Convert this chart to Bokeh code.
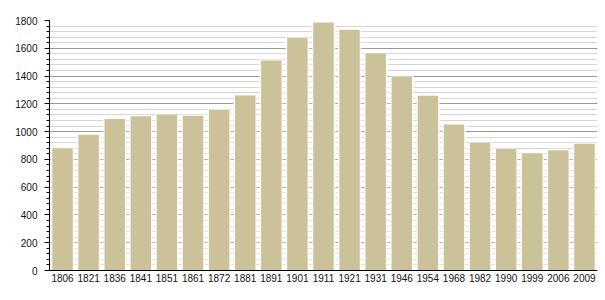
from bokeh.plotting import figure
from bokeh.models import SingleIntervalTicker, Range1d
from bokeh.embed import file_html
from bokeh.resources import INLINE

years = ["1806", "1821", "1836", "1841", "1851", "1861", "1872", "1881", "1891", "1901",
         "1911", "1921", "1931", "1946", "1954", "1968", "1982", "1990", "1999", "2006", "2009"]
population = [880, 978, 1090, 1111, 1123, 1114, 1157, 1260, 1512, 1675,
              1786, 1733, 1565, 1397, 1258, 1051, 922, 876, 845, 866, 912]

p = figure(x_range=years, y_range=Range1d(0, 1800), width=605, height=300,
           output_backend="svg", toolbar_location=None,
           min_border_left=49, min_border_right=8, min_border_top=20, min_border_bottom=30)
p.outline_line_color = None
p.background_fill_color = "white"

# white glow behind bars
p.vbar(x=years, top=population, width=0.84, bottom=0, fill_color="white", fill_alpha=0.85,
       line_color="white", line_width=3, line_alpha=0.5)
p.vbar(x=years, top=population, width=0.785, bottom=0, fill_color="#CCC29A",
       line_color=None)

ticker = SingleIntervalTicker(interval=200, num_minor_ticks=5)
p.yaxis.ticker = ticker
p.ygrid.ticker = ticker
p.ygrid.grid_line_color = "#999999"
p.ygrid.grid_line_width = 1
p.ygrid.minor_grid_line_color = "#d6d6d6"
p.ygrid.minor_grid_line_width = 1
p.ygrid.level = "underlay"
p.xgrid.grid_line_color = None

font = "Liberation Sans"
for ax in (p.xaxis[0], p.yaxis[0]):
    ax.axis_line_color = "black"
    ax.axis_line_width = 1
    ax.major_label_text_font = font
    ax.major_label_text_font_size = "10px"
    ax.major_label_text_color = "#111111"

p.yaxis.major_tick_out = 5
p.yaxis.major_tick_in = 0
p.yaxis.minor_tick_out = 3
p.yaxis.minor_tick_in = 0
p.yaxis.major_tick_line_color = "black"
p.yaxis.minor_tick_line_color = "black"
p.yaxis.major_label_standoff = 7

p.xaxis.major_tick_line_color = None
p.xaxis.minor_tick_line_color = None
p.xaxis.major_tick_out = 0
p.xaxis.major_label_standoff = 3
p.x_range.range_padding = 0

open("out.html", "w").write(file_html(p, INLINE))
